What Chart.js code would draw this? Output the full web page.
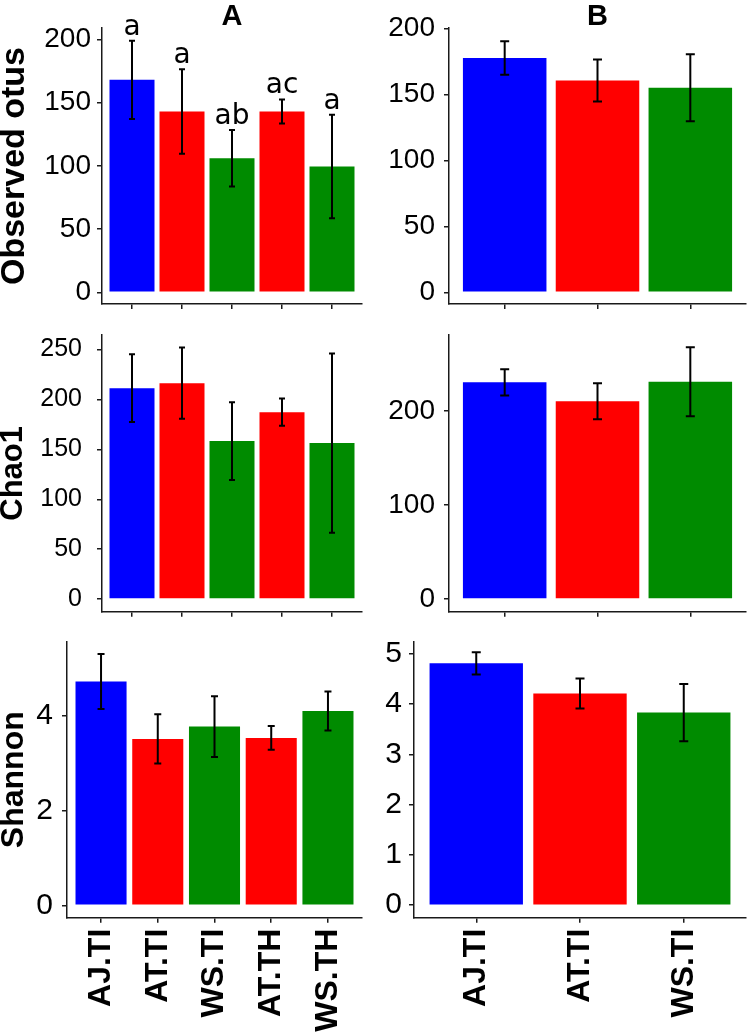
<!DOCTYPE html>
<html>
<head>
<meta charset="utf-8">
<script src="https://cdn.jsdelivr.net/npm/chart.js@4.4.0/dist/chart.umd.min.js"></script>
<style>
  html, body { margin: 0; padding: 0; background: #fff; }
  body { position: relative; width: 747px; height: 1033px; overflow: hidden; }
  canvas { position: absolute; }
</style>
</head>
<body>
<script>
// groups
const groupsA = ['AJ.TI', 'AT.TI', 'WS.TI', 'AT.TH', 'WS.TH'];
const groupsB = ['AJ.TI', 'AT.TI', 'WS.TI'];
const colorsA = ['#0000ff', '#ff0000', '#008b00', '#ff0000', '#008b00'];
const colorsB = ['#0000ff', '#ff0000', '#008b00'];

// Observed otus
const otusA = [168, 143, 106, 143, 99.5];
const otusSdA = [31, 33.4, 22.4, 9.5, 41];
const otusLettersA = ['a', 'a', 'ab', 'ac', 'a'];
const otusB = [177.7, 160.6, 155];
const otusSdB = [12.7, 15.9, 25.4];

// Chao1
const chaoA = [211.3, 216.3, 158.3, 187.3, 156.3];
const chaoSdA = [33.9, 35.7, 39, 13.7, 89.7];
const chaoB = [230.5, 210.3, 231.2];
const chaoSdB = [14, 19.2, 36.7];

// Shannon
const shannonA = [4.72, 3.51, 3.77, 3.53, 4.1];
const shannonSdA = [0.58, 0.52, 0.64, 0.25, 0.41];
const shannonB = [4.81, 4.21, 3.83];
const shannonSdB = [0.22, 0.3, 0.57];

// tick labels
const otusTicks = [0, 50, 100, 150, 200];
const chaoTicksA = [0, 50, 100, 150, 200, 250];
const chaoTicksB = [0, 100, 200];
const shannonTicksA = [0, 2, 4];
const shannonTicksB = [0, 1, 2, 3, 4, 5];

const AXIS = '#1a1a1a';

function errorBarPlugin(p) {
  return {
    id: 'errorBars',
    afterDatasetsDraw(chart) {
      const { ctx, scales: { x, y }, chartArea } = chart;
      ctx.save();
      ctx.strokeStyle = '#000';
      ctx.lineWidth = 2;
      p.values.forEach((m, i) => {
        const px = x.getPixelForValue(i + 1);
        const top = y.getPixelForValue(m + p.sd[i]);
        const bot = y.getPixelForValue(m - p.sd[i]);
        ctx.beginPath();
        ctx.moveTo(px, top);
        ctx.lineTo(px, bot);
        ctx.moveTo(px - p.cap, top);
        ctx.lineTo(px + p.cap, top);
        ctx.moveTo(px - p.cap, bot);
        ctx.lineTo(px + p.cap, bot);
        ctx.stroke();
        if (p.letters) {
          ctx.fillStyle = '#000';
          ctx.font = '28px "DejaVu Sans"';
          ctx.textAlign = 'center';
          ctx.textBaseline = 'alphabetic';
          ctx.fillText(p.letters[i], px, top - 6);
        }
      });
      if (p.panelTitle) {
        ctx.fillStyle = '#000';
        ctx.font = 'bold 29px "Liberation Sans"';
        ctx.textAlign = 'center';
        ctx.textBaseline = 'middle';
        ctx.fillText(p.panelTitle, (chartArea.left + chartArea.right) / 2, chartArea.top - 11);
      }
      ctx.restore();
    },
  };
}

function makePanel(p) {
  const canvas = document.createElement('canvas');
  canvas.width = p.width;
  canvas.height = p.height;
  canvas.style.left = p.left + 'px';
  canvas.style.top = p.top + 'px';
  canvas.style.width = p.width + 'px';
  canvas.style.height = p.height + 'px';
  document.body.appendChild(canvas);

  const n = p.groups.length;

  new Chart(canvas, {
    type: 'bar',
    data: {
      datasets: [
        {
          data: p.values.map((v, i) => ({ x: i + 1, y: v })),
          backgroundColor: p.colors,
          barPercentage: 0.9,
          categoryPercentage: 1,
        },
      ],
    },
    options: {
      responsive: false,
      animation: false,
      devicePixelRatio: 1,
      layout: {
        padding: {
          left: 0,
          top: p.area.top - p.top,
          right: p.left + p.width - p.area.right,
          bottom: p.top + p.height - p.area.bottom - p.xHeight,
        },
      },
      plugins: {
        legend: { display: false },
        tooltip: { enabled: false },
      },
      scales: {
        x: {
          type: 'linear',
          offset: false,
          min: 0.4,
          max: n + 0.6,
          afterBuildTicks: s => {
            s.ticks = p.groups.map((g, i) => ({ value: i + 1 }));
          },
          afterFit: s => {
            s.height = p.xHeight;
          },
          ticks: {
            display: p.showX,
            autoSkip: false,
            minRotation: 90,
            maxRotation: 90,
            padding: 6,
            color: '#000',
            font: { family: 'Liberation Sans', size: 32, weight: 'bold', lineHeight: 1 },
            callback: v => p.groups[v - 1],
          },
          grid: { offset: false, drawOnChartArea: false, drawTicks: true, tickLength: 5, color: AXIS, lineWidth: 1.5 },
          border: { display: true, color: AXIS, width: 1.5 },
        },
        y: {
          min: p.yMin,
          max: p.yMax,
          afterBuildTicks: s => {
            s.ticks = p.yTicks.map(v => ({ value: v }));
          },
          afterFit: s => {
            s.width = p.area.left - p.left;
          },
          ticks: {
            padding: p.tickPad,
            color: '#000',
            font: { family: 'Liberation Sans', size: p.tickSize, lineHeight: 1 },
          },
          title: {
            display: !!p.yTitle,
            text: p.yTitle,
            color: '#000',
            padding: { top: 1, bottom: 0 },
            font: { family: 'Liberation Sans', size: p.titleSize, weight: 'bold', lineHeight: 0.8 },
          },
          grid: { drawOnChartArea: false, drawTicks: true, tickLength: 5, color: AXIS, lineWidth: 1.5 },
          border: { display: true, color: AXIS, width: 1.5 },
        },
      },
    },
    plugins: [errorBarPlugin(p)],
  });
}

makePanel({
  left: 0, top: 0, width: 370, height: 330,
  area: { left: 102, top: 28, right: 362, bottom: 304 },
  groups: groupsA, colors: colorsA, values: otusA, sd: otusSdA, letters: otusLettersA,
  yMin: -9.25, yMax: 209, yTicks: otusTicks,
  yTitle: 'Observed otus', titleSize: 34, tickSize: 28, tickPad: 6,
  showX: false, xHeight: 8, cap: 3, panelTitle: 'A',
});

makePanel({
  left: 370, top: 0, width: 377, height: 330,
  area: { left: 449, top: 28, right: 746, bottom: 304 },
  groups: groupsB, colors: colorsB, values: otusB, sd: otusSdB,
  yMin: -8.9, yMax: 200.4, yTicks: otusTicks,
  tickSize: 28, tickPad: 9,
  showX: false, xHeight: 8, cap: 4.5, panelTitle: 'B',
});

makePanel({
  left: 0, top: 300, width: 370, height: 340,
  area: { left: 102, top: 335, right: 362, bottom: 611.7 },
  groups: groupsA, colors: colorsA, values: chaoA, sd: chaoSdA,
  yMin: -12.6, yMax: 264.6, yTicks: chaoTicksA,
  yTitle: 'Chao1', titleSize: 31, tickSize: 25, tickPad: 15,
  showX: false, xHeight: 8, cap: 3,
});

makePanel({
  left: 370, top: 300, width: 377, height: 340,
  area: { left: 449, top: 334.3, right: 746, bottom: 611.7 },
  groups: groupsB, colors: colorsB, values: chaoB, sd: chaoSdB,
  yMin: -13.5, yMax: 281.6, yTicks: chaoTicksB,
  tickSize: 28, tickPad: 9,
  showX: false, xHeight: 8, cap: 4.5,
});

makePanel({
  left: 0, top: 615, width: 370, height: 418,
  area: { left: 67, top: 641.7, right: 362, bottom: 917.7 },
  groups: groupsA, colors: colorsA, values: shannonA, sd: shannonSdA,
  yMin: -0.26, yMax: 5.56, yTicks: shannonTicksA,
  yTitle: 'Shannon', titleSize: 32, tickSize: 30, tickPad: 9,
  showX: true, xHeight: 115.3, cap: 3.5,
});

makePanel({
  left: 370, top: 615, width: 377, height: 418,
  area: { left: 414, top: 641.7, right: 746, bottom: 917.7 },
  groups: groupsB, colors: colorsB, values: shannonB, sd: shannonSdB,
  yMin: -0.25, yMax: 5.24, yTicks: shannonTicksB,
  tickSize: 30, tickPad: 7,
  showX: true, xHeight: 115.3, cap: 4.5,
});
</script>
</body>
</html>
